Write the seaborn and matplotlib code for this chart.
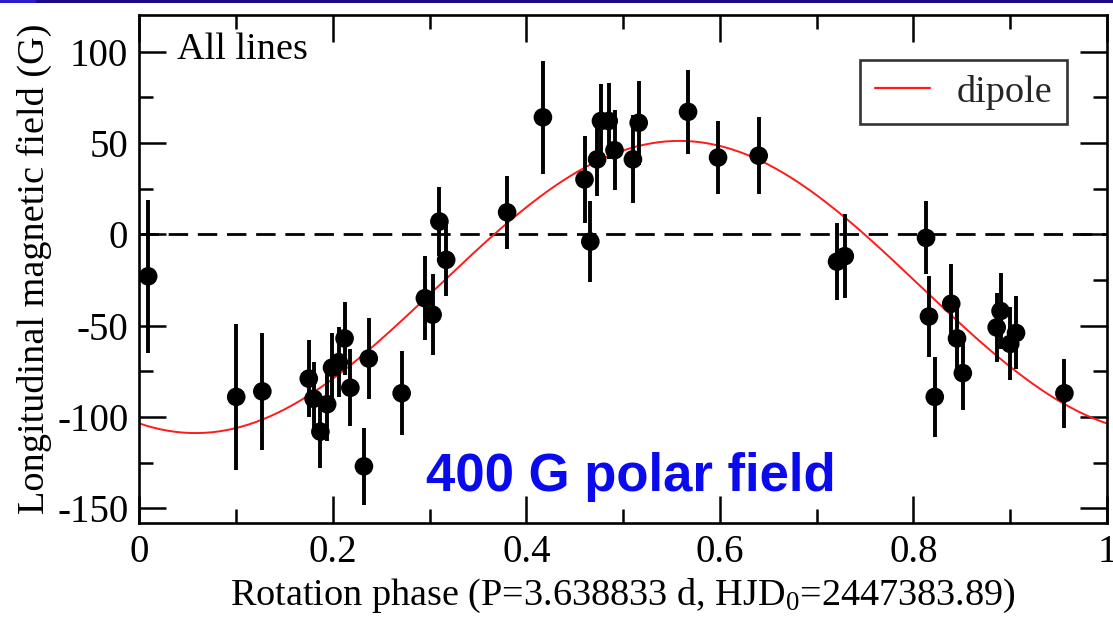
import numpy as np
import pandas as pd
import matplotlib
matplotlib.use("Agg")
import matplotlib.pyplot as plt
from matplotlib.patches import Rectangle
from matplotlib.ticker import MultipleLocator
import seaborn as sns

# Longitudinal field measurements folded on the rotation period
phase = [0.009, 0.100, 0.127, 0.175, 0.180, 0.187, 0.194, 0.199, 0.206, 0.212,
         0.218, 0.232, 0.237, 0.271, 0.295, 0.303, 0.310, 0.317, 0.380, 0.417,
         0.460, 0.466, 0.473, 0.477, 0.485, 0.491, 0.510, 0.516, 0.567, 0.598,
         0.640, 0.721, 0.729, 0.813, 0.816, 0.822, 0.839, 0.845, 0.851, 0.886,
         0.890, 0.900, 0.906, 0.956]
bz = [-23, -89, -86, -79, -90, -108, -93, -73, -70, -57,
      -84, -127, -68, -87, -35, -44, 7, -14, 12, 64,
      30, -4, 41, 62, 62, 46, 41, 61, 67, 42,
      43, -15, -12, -2, -45, -89, -38, -57, -76, -51,
      -42, -60, -54, -87]
bz_err = [42, 40, 32, 21, 20, 20, 20, 19, 19, 20,
          21, 21, 22, 23, 23, 22, 19, 20, 20, 31,
          24, 22, 20, 20, 21, 22, 24, 23, 23, 20,
          21, 21, 23, 20, 22, 22, 22, 21, 20, 19,
          21, 20, 20, 19]

# Dipole model: Bz = B0 + B1 cos(2*pi*(phase - phase_max))
dipole_b0 = -28.85
dipole_b1 = 79.95
dipole_phase_max = 0.558

x_ticks = [0, 0.2, 0.4, 0.6, 0.8, 1]
x_ticklabels = ["0", "0.2", "0.4", "0.6", "0.8", "1"]
y_ticks = [100, 50, 0, -50, -100, -150]
y_ticklabels = ["100", "50", "0", "-50", "-100", "-150"]

obs = pd.DataFrame({"phase": phase, "bz": bz, "err": bz_err})
model_phase = np.linspace(0, 1, 400)
model = pd.DataFrame({
    "phase": model_phase,
    "bz": dipole_b0 + dipole_b1 * np.cos(2 * np.pi * (model_phase - dipole_phase_max)),
})

sns.set_theme(style="ticks")
plt.rcParams["font.family"] = ["Liberation Serif", "DejaVu Serif"]
plt.rcParams["mathtext.fontset"] = "custom"
plt.rcParams["mathtext.rm"] = "Liberation Serif"
plt.rcParams["mathtext.it"] = "Liberation Serif:italic"

fig = plt.figure(figsize=(11.13, 6.22), dpi=100)
ax = fig.add_axes([0.1253, 0.1592, 0.8693, 0.8167])

ax.axhline(0, color="black", lw=2.0, ls=(0, (7, 3.5)), zorder=1)
sns.lineplot(data=model, x="phase", y="bz", color="#ff1a1a", lw=1.4,
             label="dipole", ax=ax, zorder=2)
ax.errorbar(obs["phase"], obs["bz"], yerr=obs["err"], fmt="none",
            ecolor="black", elinewidth=2.8, capsize=0, zorder=3)
sns.scatterplot(data=obs, x="phase", y="bz", color="black", s=180,
                edgecolor="none", ax=ax, zorder=4, legend=False)

ax.set_xlim(0, 1)
ax.set_ylim(-158, 120)
ax.set_xticks(x_ticks)
ax.set_xticklabels(x_ticklabels)
ax.set_yticks(y_ticks)
ax.set_yticklabels(y_ticklabels)
ax.xaxis.set_minor_locator(MultipleLocator(0.1))
ax.yaxis.set_minor_locator(MultipleLocator(25))
ax.tick_params(which="both", direction="in", top=True, right=True,
               width=1.8, color="black", labelsize=28, pad=8, labelcolor="black")
ax.tick_params(which="major", length=19.5)
ax.tick_params(which="minor", length=10)
for sp in ax.spines.values():
    sp.set_linewidth(1.9)
    sp.set_color("black")

ax.set_xlabel("Rotation phase (P=3.638833 d, HJD$_0$=2447383.89)",
              fontsize=27.5, labelpad=4, color="black")
ax.set_ylabel("Longitudinal magnetic field (G)", fontsize=27.5, labelpad=4,
              color="black")

ax.text(0.039, 0.931, "All lines", transform=ax.transAxes, fontsize=27.5,
        va="center", ha="left", color="black")
ax.text(0.508, 0.090, "400 G polar field", transform=ax.transAxes,
        fontsize=38, fontweight="bold", color="#0a0aee",
        family=["Liberation Sans", "DejaVu Sans"], ha="center", va="center")

leg = ax.legend(loc="upper right", bbox_to_anchor=(0.9587, 0.9114),
                borderaxespad=0, fontsize=27.5, frameon=True, fancybox=False,
                handlelength=1.45, handletextpad=0.7, borderpad=0.38)
leg.get_frame().set_edgecolor("black")
leg.get_frame().set_linewidth(1.9)
for line in leg.get_lines():
    line.set_linewidth(1.6)

# Slide banner line along the top edge
fig.add_artist(Rectangle((0, 1 - 3 / 622), 36 / 1113, 3 / 622,
                         transform=fig.transFigure, color="#2a1ccc", lw=0))
fig.add_artist(Rectangle((36 / 1113, 1 - 3 / 622), 1 - 36 / 1113, 3 / 622,
                         transform=fig.transFigure, color="#1c0a8a", lw=0))

fig.savefig("out.png", dpi=100)
